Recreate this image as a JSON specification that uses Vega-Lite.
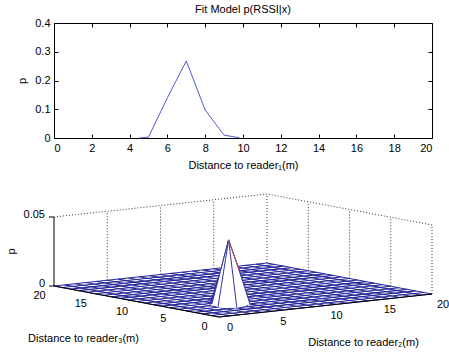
{
  "$schema": "https://vega.github.io/schema/vega-lite/v6.json",
  "width": 449,
  "height": 353,
  "autosize": {"type": "none"},
  "padding": 0,
  "background": "white",
  "title": {"text": "Fit Model p(RSSI|x)", "anchor": "middle", "frame": "group", "orient": "top", "offset": -10, "baseline": "middle", "dx": 18.5, "dy": 11, "fontSize": 11, "fontWeight": "normal", "font": "Liberation Sans", "color": "#000"},
  "config": {
    "view": {"stroke": null},
    "font": "Liberation Sans",
    "axis": {"domainColor": "#000", "tickColor": "#000", "labelColor": "#000", "titleColor": "#000", "labelFont": "Liberation Sans", "titleFont": "Liberation Sans", "labelFontSize": 11, "titleFontSize": 11, "titleFontWeight": "normal", "domainWidth": 1, "tickWidth": 1, "grid": false},
    "text": {"font": "Liberation Sans", "fontSize": 11, "color": "#000"}
  },
  "datasets": {
    "top": [
      {"d": 4.5, "p": 0}, {"d": 5, "p": 0.003}, {"d": 6, "p": 0.14}, {"d": 7, "p": 0.268},
      {"d": 8, "p": 0.097}, {"d": 9, "p": 0.01}, {"d": 9.8, "p": 0.001}
    ],
    "d3": [
      {"kind":"m","g":"r0","x2":0,"x3":0,"p":0},{"kind":"m","g":"r0","x2":20,"x3":0,"p":0},
      {"kind":"m","g":"r1","x2":0,"x3":1,"p":0},{"kind":"m","g":"r1","x2":20,"x3":1,"p":0},
      {"kind":"m","g":"r2","x2":0,"x3":2,"p":0},{"kind":"m","g":"r2","x2":20,"x3":2,"p":0},
      {"kind":"m","g":"r3","x2":0,"x3":3,"p":0},{"kind":"m","g":"r3","x2":20,"x3":3,"p":0},
      {"kind":"m","g":"r4","x2":0,"x3":4,"p":0},{"kind":"m","g":"r4","x2":3,"x3":4,"p":0},{"kind":"m","g":"r4","x2":4,"x3":4,"p":0.048},{"kind":"m","g":"r4","x2":5,"x3":4,"p":0.025},{"kind":"m","g":"r4","x2":6,"x3":4,"p":0},{"kind":"m","g":"r4","x2":20,"x3":4,"p":0},
      {"kind":"m","g":"r5","x2":0,"x3":5,"p":0},{"kind":"m","g":"r5","x2":3,"x3":5,"p":0},{"kind":"m","g":"r5","x2":4,"x3":5,"p":0.024},{"kind":"m","g":"r5","x2":5,"x3":5,"p":0.012},{"kind":"m","g":"r5","x2":6,"x3":5,"p":0},{"kind":"m","g":"r5","x2":20,"x3":5,"p":0},
      {"kind":"m","g":"r6","x2":0,"x3":6,"p":0},{"kind":"m","g":"r6","x2":20,"x3":6,"p":0},
      {"kind":"m","g":"r7","x2":0,"x3":7,"p":0},{"kind":"m","g":"r7","x2":20,"x3":7,"p":0},
      {"kind":"m","g":"r8","x2":0,"x3":8,"p":0},{"kind":"m","g":"r8","x2":20,"x3":8,"p":0},
      {"kind":"m","g":"r9","x2":0,"x3":9,"p":0},{"kind":"m","g":"r9","x2":20,"x3":9,"p":0},
      {"kind":"m","g":"r10","x2":0,"x3":10,"p":0},{"kind":"m","g":"r10","x2":20,"x3":10,"p":0},
      {"kind":"m","g":"r11","x2":0,"x3":11,"p":0},{"kind":"m","g":"r11","x2":20,"x3":11,"p":0},
      {"kind":"m","g":"r12","x2":0,"x3":12,"p":0},{"kind":"m","g":"r12","x2":20,"x3":12,"p":0},
      {"kind":"m","g":"r13","x2":0,"x3":13,"p":0},{"kind":"m","g":"r13","x2":20,"x3":13,"p":0},
      {"kind":"m","g":"r14","x2":0,"x3":14,"p":0},{"kind":"m","g":"r14","x2":20,"x3":14,"p":0},
      {"kind":"m","g":"r15","x2":0,"x3":15,"p":0},{"kind":"m","g":"r15","x2":20,"x3":15,"p":0},
      {"kind":"m","g":"r16","x2":0,"x3":16,"p":0},{"kind":"m","g":"r16","x2":20,"x3":16,"p":0},
      {"kind":"m","g":"r17","x2":0,"x3":17,"p":0},{"kind":"m","g":"r17","x2":20,"x3":17,"p":0},
      {"kind":"m","g":"r18","x2":0,"x3":18,"p":0},{"kind":"m","g":"r18","x2":20,"x3":18,"p":0},
      {"kind":"m","g":"r19","x2":0,"x3":19,"p":0},{"kind":"m","g":"r19","x2":20,"x3":19,"p":0},
      {"kind":"m","g":"r20","x2":0,"x3":20,"p":0},{"kind":"m","g":"r20","x2":20,"x3":20,"p":0},
      {"kind":"m","g":"c0","x2":0,"x3":0,"p":0},{"kind":"m","g":"c0","x2":0,"x3":20,"p":0},
      {"kind":"m","g":"c1","x2":1,"x3":0,"p":0},{"kind":"m","g":"c1","x2":1,"x3":20,"p":0},
      {"kind":"m","g":"c2","x2":2,"x3":0,"p":0},{"kind":"m","g":"c2","x2":2,"x3":20,"p":0},
      {"kind":"m","g":"c3","x2":3,"x3":0,"p":0},{"kind":"m","g":"c3","x2":3,"x3":20,"p":0},
      {"kind":"m","g":"c4","x2":4,"x3":0,"p":0},{"kind":"m","g":"c4","x2":4,"x3":3,"p":0},{"kind":"m","g":"c4","x2":4,"x3":4,"p":0.048},{"kind":"m","g":"c4","x2":4,"x3":5,"p":0.024},{"kind":"m","g":"c4","x2":4,"x3":6,"p":0},{"kind":"m","g":"c4","x2":4,"x3":20,"p":0},
      {"kind":"m","g":"c5","x2":5,"x3":0,"p":0},{"kind":"m","g":"c5","x2":5,"x3":3,"p":0},{"kind":"m","g":"c5","x2":5,"x3":4,"p":0.025},{"kind":"m","g":"c5","x2":5,"x3":5,"p":0.012},{"kind":"m","g":"c5","x2":5,"x3":6,"p":0},{"kind":"m","g":"c5","x2":5,"x3":20,"p":0},
      {"kind":"m","g":"c6","x2":6,"x3":0,"p":0},{"kind":"m","g":"c6","x2":6,"x3":20,"p":0},
      {"kind":"m","g":"c7","x2":7,"x3":0,"p":0},{"kind":"m","g":"c7","x2":7,"x3":20,"p":0},
      {"kind":"m","g":"c8","x2":8,"x3":0,"p":0},{"kind":"m","g":"c8","x2":8,"x3":20,"p":0},
      {"kind":"m","g":"c9","x2":9,"x3":0,"p":0},{"kind":"m","g":"c9","x2":9,"x3":20,"p":0},
      {"kind":"m","g":"c10","x2":10,"x3":0,"p":0},{"kind":"m","g":"c10","x2":10,"x3":20,"p":0},
      {"kind":"m","g":"c11","x2":11,"x3":0,"p":0},{"kind":"m","g":"c11","x2":11,"x3":20,"p":0},
      {"kind":"m","g":"c12","x2":12,"x3":0,"p":0},{"kind":"m","g":"c12","x2":12,"x3":20,"p":0},
      {"kind":"m","g":"c13","x2":13,"x3":0,"p":0},{"kind":"m","g":"c13","x2":13,"x3":20,"p":0},
      {"kind":"m","g":"c14","x2":14,"x3":0,"p":0},{"kind":"m","g":"c14","x2":14,"x3":20,"p":0},
      {"kind":"m","g":"c15","x2":15,"x3":0,"p":0},{"kind":"m","g":"c15","x2":15,"x3":20,"p":0},
      {"kind":"m","g":"c16","x2":16,"x3":0,"p":0},{"kind":"m","g":"c16","x2":16,"x3":20,"p":0},
      {"kind":"m","g":"c17","x2":17,"x3":0,"p":0},{"kind":"m","g":"c17","x2":17,"x3":20,"p":0},
      {"kind":"m","g":"c18","x2":18,"x3":0,"p":0},{"kind":"m","g":"c18","x2":18,"x3":20,"p":0},
      {"kind":"m","g":"c19","x2":19,"x3":0,"p":0},{"kind":"m","g":"c19","x2":19,"x3":20,"p":0},
      {"kind":"m","g":"c20","x2":20,"x3":0,"p":0},{"kind":"m","g":"c20","x2":20,"x3":20,"p":0},
      {"kind":"h","g":"hull","o":0,"x2":4,"x3":4,"p":0.048},
      {"kind":"h","g":"hull","o":1,"x2":6,"x3":4,"p":0},
      {"kind":"h","g":"hull","o":2,"x2":4,"x3":3,"p":0},
      {"kind":"h","g":"hull","o":3,"x2":3,"x3":4,"p":0},
      {"kind":"h","g":"hull","o":4,"x2":4,"x3":6,"p":0},
      {"kind":"s","g":"sa","x2":4,"x3":3,"p":0},{"kind":"s","g":"sa","x2":4,"x3":4,"p":0.048},{"kind":"s","g":"sa","x2":4,"x3":5,"p":0.024},{"kind":"s","g":"sa","x2":4,"x3":6,"p":0},
      {"kind":"s","g":"sb","x2":3,"x3":4,"p":0},{"kind":"s","g":"sb","x2":4,"x3":4,"p":0.048},{"kind":"s","g":"sb","x2":5,"x3":4,"p":0.025},{"kind":"s","g":"sb","x2":6,"x3":4,"p":0},
      {"kind":"r","g":"red","x2":4,"x3":4,"p":0.048},{"kind":"r","g":"red","x2":5,"x3":4,"p":0.025},
      {"kind":"b","g":"top","x2":0,"x3":20,"p":0.05},{"kind":"b","g":"top","x2":20,"x3":20,"p":0.05},{"kind":"b","g":"top","x2":20,"x3":0,"p":0.05},
      {"kind":"b","g":"v5","x2":5,"x3":20,"p":0},{"kind":"b","g":"v5","x2":5,"x3":20,"p":0.05},
      {"kind":"b","g":"v10","x2":10,"x3":20,"p":0},{"kind":"b","g":"v10","x2":10,"x3":20,"p":0.05},
      {"kind":"b","g":"v15","x2":15,"x3":20,"p":0},{"kind":"b","g":"v15","x2":15,"x3":20,"p":0.05},
      {"kind":"b","g":"v20","x2":20,"x3":20,"p":0},{"kind":"b","g":"v20","x2":20,"x3":20,"p":0.05},
      {"kind":"b","g":"w15","x2":20,"x3":15,"p":0},{"kind":"b","g":"w15","x2":20,"x3":15,"p":0.05},
      {"kind":"b","g":"w10","x2":20,"x3":10,"p":0},{"kind":"b","g":"w10","x2":20,"x3":10,"p":0.05},
      {"kind":"b","g":"w5","x2":20,"x3":5,"p":0},{"kind":"b","g":"w5","x2":20,"x3":5,"p":0.05},
      {"kind":"b","g":"w0","x2":20,"x3":0,"p":0},{"kind":"b","g":"w0","x2":20,"x3":0,"p":0.05},
      {"kind":"a","g":"z","x2":0,"x3":20,"p":0},{"kind":"a","g":"z","x2":0,"x3":20,"p":0.05},
      {"kind":"a","g":"f","x2":0,"x3":20,"p":0},{"kind":"a","g":"f","x2":0,"x3":0,"p":0},{"kind":"a","g":"f","x2":20,"x3":0,"p":0},
      {"kind":"zt","x2":0,"x3":20,"p":0},{"kind":"zt","x2":0,"x3":20,"p":0.05},
      {"kind":"l2","x2":0,"x3":0,"p":0,"label":"0"},{"kind":"l2","x2":5,"x3":0,"p":0,"label":"5"},{"kind":"l2","x2":10,"x3":0,"p":0,"label":"10"},{"kind":"l2","x2":15,"x3":0,"p":0,"label":"15"},{"kind":"l2","x2":20,"x3":0,"p":0,"label":"20"},
      {"kind":"l3","x2":0,"x3":0,"p":0,"label":"0"},{"kind":"l3","x2":0,"x3":5,"p":0,"label":"5"},{"kind":"l3","x2":0,"x3":10,"p":0,"label":"10"},{"kind":"l3","x2":0,"x3":15,"p":0,"label":"15"},{"kind":"l3","x2":0,"x3":20,"p":0,"label":"20"},
      {"kind":"lz","x2":0,"x3":20,"p":0,"label":"0"},{"kind":"lz","x2":0,"x3":20,"p":0.05,"label":"0.05"},
      {"kind":"t2","x2":10,"x3":0,"p":0,"label":"Distance to reader₂(m)"},
      {"kind":"t3","x2":0,"x3":10,"p":0,"label":"Distance to reader₃(m)"},
      {"kind":"tz","x2":0,"x3":20,"p":0.025,"label":"p"}
    ]
  },
  "layer": [
    {
      "data": {"name": "top"},
      "mark": {"type": "line", "color": "#4a5bd4", "strokeWidth": 1},
      "encoding": {
        "x": {"field": "d", "type": "quantitative", "scale": {"domain": [0, 20], "range": [54, 432], "nice": false, "zero": false},
              "axis": {"orient": "bottom", "offset": -215, "values": [0,2,4,6,8,10,12,14,16,18,20], "format": "d", "tickSize": -4, "labelPadding": 8, "title": "Distance to reader₁(m)", "titleX": 243, "titleY": 30, "titleBaseline": "alphabetic", "titleAnchor": "middle"}},
        "y": {"field": "p", "type": "quantitative", "scale": {"domain": [0, 0.4], "range": [138, 23], "nice": false, "zero": false},
              "axis": {"orient": "left", "offset": -54, "values": [0, 0.1, 0.2, 0.3, 0.4], "format": "~g", "tickSize": -4, "labelPadding": 8, "title": "p", "titleX": -32, "titleY": 80.5, "titleBaseline": "middle", "titleAngle": 270}}
      }
    },
    {
      "data": {"name": "top"},
      "mark": {"type": "line", "strokeOpacity": 0},
      "encoding": {
        "x": {"field": "d", "type": "quantitative", "scale": {"domain": [0, 20], "range": [54, 432], "nice": false, "zero": false},
              "axis": {"orient": "top", "offset": -23, "values": [0,2,4,6,8,10,12,14,16,18,20], "tickSize": -4, "labels": false, "title": null}},
        "y": {"field": "p", "type": "quantitative", "scale": {"domain": [0, 0.4], "range": [138, 23], "nice": false, "zero": false},
              "axis": {"orient": "right", "offset": -17, "values": [0, 0.1, 0.2, 0.3, 0.4], "tickSize": -4, "labels": false, "title": null}}
      }
    },
    {
      "data": {"name": "d3"},
      "transform": [
        {"calculate": "10.65*datum.x2 - 8.25*datum.x3", "as": "sx"},
        {"calculate": "1.15*datum.x2 + 1.55*datum.x3 + 1380*datum.p", "as": "sy"}
      ],
      "encoding": {
        "x": {"field": "sx", "type": "quantitative", "scale": {"domain": [-219, 230], "nice": false, "zero": false}, "axis": null},
        "y": {"field": "sy", "type": "quantitative", "scale": {"domain": [-36, 317], "nice": false, "zero": false}, "axis": null}
      },
      "layer": [
        {"transform": [{"filter": "datum.kind == 'b'"}], "mark": {"type": "line", "color": "#333", "strokeWidth": 1, "strokeDash": [1, 2]}, "encoding": {"detail": {"field": "g"}}},
        {"transform": [{"filter": "datum.kind == 'm'"}], "mark": {"type": "line", "color": "#28289a", "strokeWidth": 1.1}, "encoding": {"detail": {"field": "g"}}},
        {"transform": [{"filter": "datum.kind == 'h'"}], "mark": {"type": "line", "fill": "white", "stroke": "white", "strokeWidth": 0.5}, "encoding": {"order": {"field": "o", "type": "quantitative"}}},
        {"transform": [{"filter": "datum.kind == 's'"}], "mark": {"type": "line", "color": "#3535a3", "strokeWidth": 1}, "encoding": {"detail": {"field": "g"}}},
        {"transform": [{"filter": "datum.kind == 'r'"}], "mark": {"type": "line", "color": "#c04848", "strokeWidth": 1}, "encoding": {}},
        {"transform": [{"filter": "datum.kind == 'a'"}], "mark": {"type": "line", "color": "#000", "strokeWidth": 1}, "encoding": {"detail": {"field": "g"}}},
        {"transform": [{"filter": "datum.kind == 'zt'"}], "mark": {"type": "point", "shape": "M -1 0 L 0 0", "size": 100, "filled": false, "stroke": "#000", "strokeWidth": 1, "opacity": 1}},
        {"transform": [{"filter": "datum.kind == 'l2'"}], "mark": {"type": "text", "dx": 11, "dy": 10.5, "align": "center", "baseline": "middle"}, "encoding": {"text": {"field": "label"}}},
        {"transform": [{"filter": "datum.kind == 'l3'"}], "mark": {"type": "text", "dx": -14.5, "dy": 10, "align": "center", "baseline": "middle"}, "encoding": {"text": {"field": "label"}}},
        {"transform": [{"filter": "datum.kind == 'lz'"}], "mark": {"type": "text", "dx": -9, "dy": -2, "align": "right", "baseline": "middle"}, "encoding": {"text": {"field": "label"}}},
        {"transform": [{"filter": "datum.kind == 't2'"}], "mark": {"type": "text", "dx": 38, "dy": 37.5, "align": "center", "baseline": "middle"}, "encoding": {"text": {"field": "label"}}},
        {"transform": [{"filter": "datum.kind == 't3'"}], "mark": {"type": "text", "dx": -53, "dy": 37.5, "align": "center", "baseline": "middle"}, "encoding": {"text": {"field": "label"}}},
        {"transform": [{"filter": "datum.kind == 'tz'"}], "mark": {"type": "text", "angle": 270, "dx": 0, "dy": -42, "align": "center", "baseline": "middle"}, "encoding": {"text": {"field": "label"}}}
      ]
    }
  ],
  "resolve": {"scale": {"x": "independent", "y": "independent"}}
}
